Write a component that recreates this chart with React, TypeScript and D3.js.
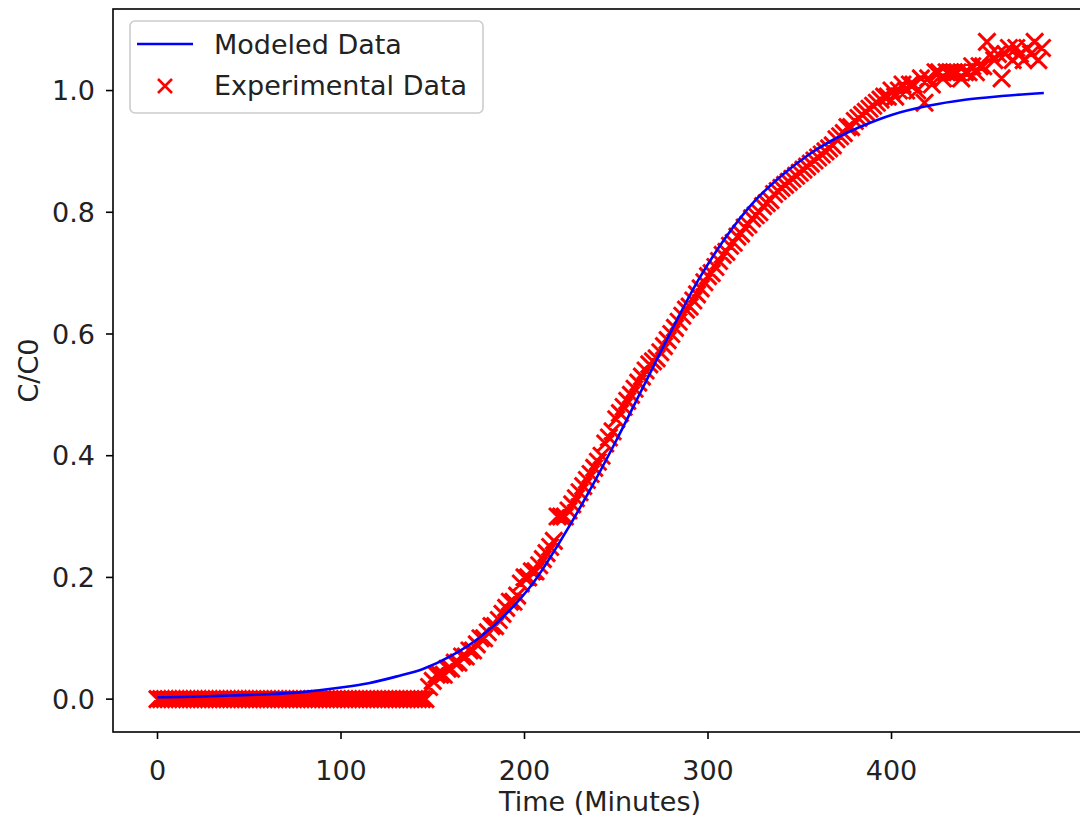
import React, { useEffect } from "react";
import * as d3 from "d3";

// experimental samples (minutes, C/C0)
const expTime = [
  0, 2, 4, 6, 8, 10, 12, 14, 16, 18, 20, 22, 24, 26, 28, 30, 32, 34, 36, 38,
  40, 42, 44, 46, 48, 50, 52, 54, 56, 58, 60, 62, 64, 66, 68, 70, 72, 74, 76, 78,
  80, 82, 84, 86, 88, 90, 92, 94, 96, 98, 100, 102, 104, 106, 108, 110, 112, 114, 116, 118,
  120, 122, 124, 126, 128, 130, 132, 134, 136, 138, 140, 142, 144, 146, 148, 150, 152, 154, 156, 158,
  160, 162, 164, 166, 168, 170, 172, 174, 176, 178, 180, 182, 184, 186, 188, 190, 192, 194, 196, 198,
  200, 202, 204, 206, 208, 210, 212, 214, 216, 218, 220, 222, 224, 226, 228, 230, 232, 234, 236, 238,
  240, 242, 244, 246, 248, 250, 252, 254, 256, 258, 260, 262, 264, 266, 268, 270, 272, 274, 276, 278,
  280, 282, 284, 286, 288, 290, 292, 294, 296, 298, 300, 302, 304, 306, 308, 310, 312, 314, 316, 318,
  320, 322, 324, 326, 328, 330, 332, 334, 336, 338, 340, 342, 344, 346, 348, 350, 352, 354, 356, 358,
  360, 362, 364, 366, 368, 370, 372, 374, 376, 378, 380, 382, 384, 386, 388, 390, 392, 394, 396, 398,
  400, 402, 404, 406, 408, 410, 412, 414, 416, 418, 420, 422, 424, 426, 428, 430, 432, 434, 436, 438,
  440, 442, 444, 446, 448, 450, 452, 454, 456, 458, 460, 462, 464, 466, 468, 470, 472, 474, 476, 478,
  480, 482,
];
const expValue = [
  0, 0, 0, 0, 0, 0, 0, 0, 0, 0, 0, 0, 0, 0, 0, 0, 0, 0, 0, 0,
  0, 0, 0, 0, 0, 0, 0, 0, 0, 0, 0, 0, 0, 0, 0, 0, 0, 0, 0, 0,
  0, 0, 0, 0, 0, 0, 0, 0, 0, 0, 0, 0, 0, 0, 0, 0, 0, 0, 0, 0,
  0, 0, 0, 0, 0, 0, 0, 0, 0, 0, 0, 0, 0, 0, 0.02, 0.03, 0.04, 0.04, 0.04, 0.05,
  0.05, 0.06, 0.06, 0.07, 0.07, 0.08, 0.08, 0.09, 0.1, 0.1, 0.11, 0.12, 0.12, 0.13, 0.14, 0.15, 0.16, 0.16, 0.17, 0.19,
  0.2, 0.2, 0.21, 0.21, 0.22, 0.23, 0.24, 0.25, 0.26, 0.3, 0.3, 0.3, 0.31, 0.32, 0.33, 0.34, 0.35, 0.36, 0.37, 0.38,
  0.39, 0.4, 0.42, 0.43, 0.44, 0.46, 0.47, 0.48, 0.49, 0.5, 0.51, 0.52, 0.53, 0.54, 0.55, 0.555, 0.56, 0.57, 0.58, 0.59,
  0.6, 0.61, 0.62, 0.63, 0.64, 0.645, 0.655, 0.665, 0.675, 0.685, 0.695, 0.7, 0.71, 0.72, 0.73, 0.735, 0.745, 0.75, 0.76, 0.765,
  0.775, 0.78, 0.79, 0.795, 0.8, 0.81, 0.815, 0.82, 0.83, 0.835, 0.84, 0.845, 0.85, 0.855, 0.86, 0.865, 0.87, 0.875, 0.88, 0.885,
  0.89, 0.895, 0.9, 0.905, 0.91, 0.92, 0.925, 0.93, 0.94, 0.94, 0.95, 0.955, 0.96, 0.965, 0.97, 0.975, 0.98, 0.985, 0.99, 0.99,
  1.0, 0.99, 1.0, 1.01, 1.0, 1.01, 1.01, 1.0, 1.02, 0.98, 1.02, 1.01, 1.03, 1.03, 1.02, 1.03, 1.03, 1.03, 1.03, 1.02,
  1.03, 1.03, 1.04, 1.03, 1.04, 1.04, 1.08, 1.06, 1.05, 1.06, 1.02, 1.06, 1.07, 1.05, 1.07, 1.06, 1.05, 1.07, 1.06, 1.08,
  1.05, 1.07,
];

// fitted model curve
const modelTime = [
  0, 20, 40, 60, 80, 100, 115, 130, 145, 160, 175, 190, 205, 220, 235, 250,
  265, 280, 295, 310, 325, 340, 355, 370, 385, 400, 420, 440, 460, 483,
];
const modelValue = [
  0.003, 0.004, 0.006, 0.008, 0.012, 0.019, 0.026, 0.037, 0.05, 0.071, 0.1, 0.14, 0.192, 0.262, 0.34, 0.425,
  0.515, 0.605, 0.69, 0.76, 0.817, 0.86, 0.895, 0.922, 0.943, 0.96, 0.975, 0.985, 0.991, 0.996,
];

const xTicks = [0, 100, 200, 300, 400];
const yTicks = [0, 0.2, 0.4, 0.6, 0.8, 1.0];

const W = 1080;
const H = 819;
const left = 113, right = 1092, top = 9, bottom = 732;
const font = "DejaVu Sans, sans-serif";
const fs = 27;

const cross = (x: number, y: number, r: number) =>
  `M${x - r},${y - r}L${x + r},${y + r}M${x - r},${y + r}L${x + r},${y - r}`;

export default function App() {
  useEffect(() => {
    document.body.style.margin = "0";
  }, []);

  const x = d3.scaleLinear().domain([-24.25, 509.25]).range([left, right]);
  const y = d3.scaleLinear().domain([-0.054, 1.134]).range([bottom, top]);

  const pts = expTime.map((t, i) => [t, expValue[i]] as [number, number]);
  const model = modelTime.map((t, i) => [t, modelValue[i]] as [number, number]);
  const line = d3
    .line<[number, number]>()
    .x((d) => x(d[0]))
    .y((d) => y(d[1]))
    .curve(d3.curveMonotoneX);

  return (
    <svg width={W} height={H} style={{ display: "block", background: "#fff" }} fontFamily={font}>
      <defs>
        <clipPath id="plot">
          <rect x={left} y={top} width={right - left} height={bottom - top} />
        </clipPath>
      </defs>
      <g clipPath="url(#plot)">
        <path
          d={pts.map((d) => cross(x(d[0]), y(d[1]), 8.5)).join("")}
          fill="none"
          stroke="#ff0000"
          strokeWidth={3}
        />
        <path d={line(model) || ""} fill="none" stroke="#0000ff" strokeWidth={2.6} />
      </g>
      <rect x={left} y={top} width={right - left} height={bottom - top} fill="none" stroke="#000" strokeWidth={1.6} />

      {xTicks.map((t) => (
        <g key={"x" + t} transform={`translate(${x(t)},${bottom})`}>
          <line y2={7} stroke="#000" strokeWidth={1.6} />
          <text y={48} textAnchor="middle" fontSize={fs} fill="#222">
            {t}
          </text>
        </g>
      ))}
      {yTicks.map((t) => (
        <g key={"y" + t} transform={`translate(${left},${y(t)})`}>
          <line x2={-7} stroke="#000" strokeWidth={1.6} />
          <text x={-18} dy="0.36em" textAnchor="end" fontSize={fs} fill="#222">
            {t.toFixed(1)}
          </text>
        </g>
      ))}
      <text x={600} y={811} textAnchor="middle" fontSize={fs} fill="#222">
        Time (Minutes)
      </text>
      <text transform={`translate(38,${(top + bottom) / 2}) rotate(-90)`} textAnchor="middle" fontSize={fs} fill="#222">
        C/C0
      </text>

      <g>
        <rect x={130} y={21} width={353} height={92} rx={5} fill="#fff" fillOpacity={0.8} stroke="#cccccc" strokeWidth={1.6} />
        <line x1={137} x2={193} y1={44} y2={44} stroke="#0000ff" strokeWidth={2.6} />
        <path d={cross(165, 86, 7)} stroke="#ff0000" strokeWidth={2.6} fill="none" />
        <text x={214} y={54} fontSize={fs} fill="#222">
          Modeled Data
        </text>
        <text x={214} y={95} fontSize={fs} fill="#222">
          Experimental Data
        </text>
      </g>
    </svg>
  );
}
